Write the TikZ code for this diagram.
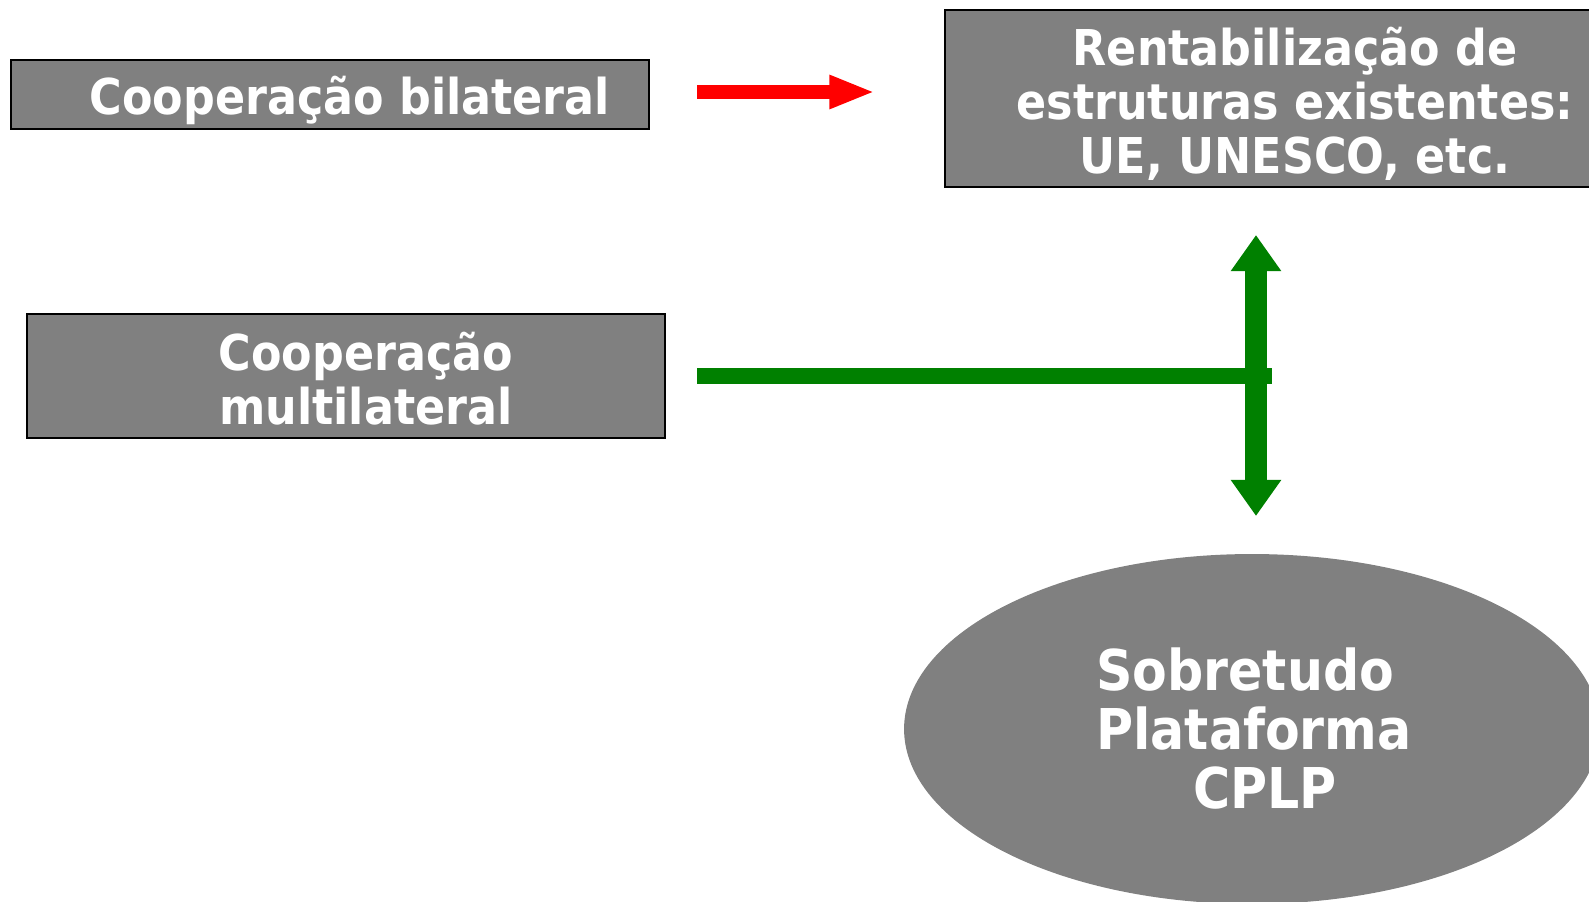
\documentclass[tikz,border=0pt]{standalone}
\usepackage{fontspec}
\setmainfont{DejaVu Sans Condensed}
\usetikzlibrary{arrows.meta,shapes.geometric}
\definecolor{boxgray}{RGB}{128,128,128}
\definecolor{arrowgreen}{RGB}{0,128,0}
\definecolor{arrowred}{RGB}{255,0,0}

\begin{document}
\begin{tikzpicture}[x=0.02cm,y=-0.02cm,
  box/.style={draw=black,line width=1.2pt,fill=boxgray,inner sep=0pt},
  boxtext/.style={text=white,align=center,inner sep=0pt,font=\bfseries\fontsize{28.1pt}{30.7pt}\selectfont},
  ovaltext/.style={text=white,align=center,inner sep=0pt,font=\bfseries\fontsize{32pt}{33.6pt}\selectfont},
  redarrow/.style={arrowred,line width=8.5pt,-{Triangle[length=26pt,width=17.6pt]}},
  greenline/.style={arrowgreen,line width=8.8pt},
  greenarrow/.style={arrowgreen,line width=13pt,{Triangle[length=20.5pt,width=27.3pt]}-{Triangle[length=20.5pt,width=27.3pt]}}]
\useasboundingbox (0,0) rectangle (1589,902);

\node (bilat) at (330,94.5) [box,minimum width=12.76cm,minimum height=1.38cm]{};
\node (rentab) at (1277.5,98.5) [box,minimum width=13.3cm,minimum height=3.54cm]{};
\node (multi) at (346,376) [box,minimum width=12.76cm,minimum height=2.48cm]{};
\node (cplp) at (1252,729) [ellipse,fill=boxgray,inner sep=0pt,minimum width=13.92cm,minimum height=7cm]{};

\node (bilattxt) at (350,114.5) [boxtext,anchor=base]{Cooperação bilateral};
\node (rentabtxt) at (1295,104) [boxtext]{Rentabilização de\\estruturas existentes:\\UE, UNESCO, etc.};
\node (multitxt) at (366,379) [boxtext]{Cooperação\\multilateral};
\node (cplptxt) at (1254,729) [ovaltext]{Sobretudo\hspace*{0.35cm}\\Plataforma\\\hspace*{0.45cm}CPLP};

\coordinate (redfrom) at (697,92);
\coordinate (redto) at (875,92);
\coordinate (greenfrom) at (697,376);
\coordinate (greenjoin) at (1272,376);
\coordinate (greenup) at (1256,235);
\coordinate (greendown) at (1256,516);

\draw[redarrow] (redfrom)--(redto);
\draw[greenarrow] (greenup)--(greendown);
\draw[greenline] (greenfrom)--(greenjoin);

\end{tikzpicture}
\end{document}
